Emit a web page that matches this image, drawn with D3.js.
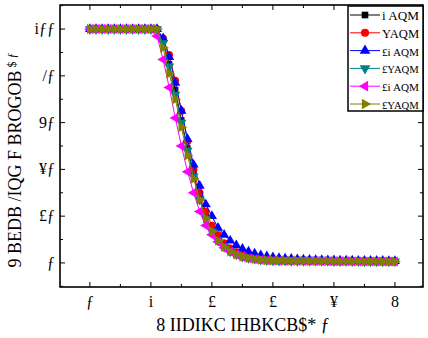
<!DOCTYPE html>
<html>
<head>
<meta charset="utf-8">
<script src="https://cdn.jsdelivr.net/npm/d3@7"></script>
<style>
  body { margin: 0; background: #fff; }
  text { font-family: "Liberation Serif", "DejaVu Serif", serif; fill: #000; }
</style>
</head>
<body>
<div id="chart"></div>
<script>
const width = 428;
const height = 338;
const margin = {top: 5, right: 5, bottom: 51, left: 60};

// x positions shared by all series
const xValues = [0, 0.1, 0.2, 0.3, 0.4, 0.5, 0.6, 0.7, 0.8, 0.9, 1.0, 1.1, 1.2, 1.3, 1.4, 1.5, 1.6, 1.7, 1.8, 1.9,
  2.0, 2.1, 2.2, 2.3, 2.4, 2.5, 2.6, 2.7, 2.8, 2.9, 3.0, 3.1, 3.2, 3.3, 3.4, 3.5, 3.6, 3.7, 3.8, 3.9,
  4.0, 4.1, 4.2, 4.3, 4.4, 4.5, 4.6, 4.7, 4.8, 4.9, 5.0];

const seriesNames = ['i AQM', 'YAQM', '£i AQM', '£YAQM', '£i AQM', '£YAQM'];

const blackValues = [100, 100, 100, 100, 100, 100, 100, 100, 100, 100, 100, 100,
  95, 85, 74, 61, 49, 38, 28, 20, 14, 10, 7, 5, 3.6, 2.7, 2.1, 1.7, 1.4, 1.2, 1.1,
  1.0, 1.0, 0.9, 0.9, 0.9, 0.8, 0.8, 0.8, 0.8, 0.7, 0.7, 0.7, 0.7, 0.7, 0.6, 0.6, 0.6, 0.6, 0.6, 0.6];
const redValues = [100, 100, 100, 100, 100, 100, 100, 100, 100, 100, 100, 100,
  96, 89, 78, 65, 52, 40, 30, 22, 16, 12, 8.5, 6.2, 4.6, 3.5, 2.7, 2.1, 1.7, 1.5, 1.3,
  1.2, 1.1, 1.1, 1.0, 1.0, 1.0, 0.9, 0.9, 0.9, 0.9, 0.8, 0.8, 0.8, 0.8, 0.8, 0.7, 0.7, 0.7, 0.7, 0.7];
const blueValues = [100, 100, 100, 100, 100, 100, 100, 100, 100, 100, 100, 100,
  96, 88, 77, 65, 53, 42, 33, 25, 20, 15, 12, 9.5, 7.5, 6, 4.8, 4, 3.3, 2.8, 2.4,
  2.1, 1.9, 1.7, 1.5, 1.4, 1.3, 1.2, 1.2, 1.1, 1.1, 1.0, 1.0, 1.0, 0.9, 0.9, 0.9, 0.9, 0.9, 0.8, 0.8];
const tealValues = [100, 100, 100, 100, 100, 100, 100, 100, 100, 100, 100, 100,
  94, 84, 72, 60, 48, 37, 27, 19, 13.5, 9.5, 6.8, 4.9, 3.6, 2.7, 2.1, 1.7, 1.4, 1.2, 1.1,
  1.0, 1.0, 0.9, 0.9, 0.9, 0.8, 0.8, 0.8, 0.8, 0.7, 0.7, 0.7, 0.7, 0.7, 0.6, 0.6, 0.6, 0.6, 0.6, 0.6];
const magentaValues = [100, 100, 100, 100, 100, 100, 100, 100, 100, 100, 100, 97,
  87, 75, 62, 50, 39, 30, 22, 16, 12, 9, 6.5, 4.8, 3.5, 2.6, 2.0, 1.6, 1.3, 1.1, 1.0,
  0.9, 0.9, 0.9, 0.8, 0.8, 0.8, 0.8, 0.7, 0.7, 0.7, 0.7, 0.7, 0.6, 0.6, 0.6, 0.6, 0.6, 0.6, 0.6, 0.6];
const oliveValues = [100, 100, 100, 100, 100, 100, 100, 100, 100, 100, 100, 100,
  92, 81, 70, 58, 46, 36, 27, 19, 13.5, 9.5, 6.8, 4.9, 3.6, 2.7, 2.1, 1.7, 1.4, 1.2, 1.1,
  1.0, 1.0, 0.9, 0.9, 0.9, 0.8, 0.8, 0.8, 0.8, 0.7, 0.7, 0.7, 0.7, 0.7, 0.6, 0.6, 0.6, 0.6, 0.6, 0.6];

const xTicks = [0, 1, 2, 3, 4, 5];
const xTickLabels = ['ƒ', 'i', '£', '£', '¥', '8'];
const yTicks = [0, 20, 40, 60, 80, 100];
const yTickLabels = ['ƒ', '£ƒ', '¥ƒ', '9ƒ', '/ƒ', 'iƒƒ'];

const xLabel = '8 IIDIKC IHBKCB$* ƒ';
const yLabel = '9 BEDB /IQG F BROGOB';
const yLabelSup = '$ ƒ';

const series = [
  {name: seriesNames[0], values: blackValues, color: '#000000', shape: d3.symbolSquare, rot: 0, size: 38},
  {name: seriesNames[1], values: redValues, color: '#ff0000', shape: d3.symbolCircle, rot: 0, size: 46},
  {name: seriesNames[2], values: blueValues, color: '#0000ff', shape: d3.symbolTriangle, rot: 0, size: 44},
  {name: seriesNames[3], values: tealValues, color: '#008080', shape: d3.symbolTriangle, rot: 180, size: 44},
  {name: seriesNames[4], values: magentaValues, color: '#ff00ff', shape: d3.symbolTriangle, rot: -90, size: 44},
  {name: seriesNames[5], values: oliveValues, color: '#808000', shape: d3.symbolTriangle, rot: 90, size: 44},
];

const x = d3.scaleLinear().domain([-0.49, 5.46]).range([margin.left, width - margin.right]);
const y = d3.scaleLinear().domain([-10.3, 110.3]).range([height - margin.bottom, margin.top]);

const svg = d3.select('#chart').append('svg').attr('width', width).attr('height', height);

// frame
svg.append('rect')
  .attr('x', margin.left).attr('y', margin.top)
  .attr('width', width - margin.left - margin.right)
  .attr('height', height - margin.top - margin.bottom)
  .attr('fill', 'none').attr('stroke', '#000').attr('stroke-width', 1.6);

// ticks, pointing inward on all four sides
const xMinor = d3.range(-0.5, 5.5, 0.5).filter((d) => d >= -0.49 && d <= 5.46);
const yMinor = d3.range(-10, 111, 10);
const bottom = height - margin.bottom;
const right = width - margin.right;

const tickG = svg.append('g').attr('stroke', '#000').attr('stroke-width', 1);
xMinor.forEach((d) => {
  const len = Number.isInteger(d) ? 5 : 3;
  tickG.append('line').attr('x1', x(d)).attr('x2', x(d)).attr('y1', bottom).attr('y2', bottom - len);
  tickG.append('line').attr('x1', x(d)).attr('x2', x(d)).attr('y1', margin.top).attr('y2', margin.top + len);
});
yMinor.forEach((d) => {
  const len = d % 20 === 0 ? 5 : 3;
  tickG.append('line').attr('y1', y(d)).attr('y2', y(d)).attr('x1', margin.left).attr('x2', margin.left + len);
  tickG.append('line').attr('y1', y(d)).attr('y2', y(d)).attr('x1', right).attr('x2', right - len);
});

svg.append('g').selectAll('text')
  .data(xTicks)
  .enter()
  .append('text')
  .attr('x', (d) => x(d))
  .attr('y', bottom + 20)
  .attr('text-anchor', 'middle')
  .style('font-size', '16px')
  .text((d, i) => xTickLabels[i]);

svg.append('g').selectAll('text')
  .data(yTicks)
  .enter()
  .append('text')
  .attr('x', margin.left - 5)
  .attr('y', (d) => y(d) + 5)
  .attr('text-anchor', 'end')
  .style('font-size', '16px')
  .text((d, i) => yTickLabels[i]);

svg.append('text')
  .attr('x', 243).attr('y', 331)
  .attr('text-anchor', 'middle')
  .style('font-size', '18px')
  .text(xLabel);

const yl = svg.append('text')
  .attr('transform', 'translate(21,160) rotate(-90)')
  .attr('text-anchor', 'middle')
  .style('font-size', '18px');
yl.append('tspan').text(yLabel);
yl.append('tspan').attr('dx', 3).attr('dy', -5).style('font-size', '12px').text(yLabelSup);

// series
const line = d3.line().x((d, i) => x(xValues[i])).y((d) => y(d));
const plot = svg.append('g');
series.forEach((s) => {
  plot.append('path')
    .datum(s.values)
    .attr('d', line)
    .attr('fill', 'none')
    .attr('stroke', s.color)
    .attr('stroke-width', 1);
  const sym = d3.symbol().type(s.shape).size(s.size);
  plot.append('g').selectAll('path')
    .data(s.values)
    .enter()
    .append('path')
    .attr('d', sym)
    .attr('transform', (d, i) => `translate(${x(xValues[i])},${y(d)}) rotate(${s.rot})`)
    .attr('fill', s.color);
});

// legend
const legend = svg.append('g');
legend.append('rect')
  .attr('x', 348).attr('y', 6).attr('width', 75).attr('height', 105)
  .attr('fill', '#fff').attr('stroke', '#000').attr('stroke-width', 1.5);
const legendRows = legend.selectAll('g')
  .data(series)
  .enter()
  .append('g')
  .attr('transform', (d, i) => `translate(0,${15 + i * 17.8})`);
legendRows.append('line')
  .attr('x1', 350).attr('x2', 380)
  .attr('stroke', (d) => d.color).attr('stroke-width', 1);
legendRows.append('path')
  .attr('d', (d) => d3.symbol().type(d.shape).size(d.size + 6)())
  .attr('transform', (d) => `translate(365,0) rotate(${d.rot})`)
  .attr('fill', (d) => d.color);
legendRows.append('text')
  .attr('x', 382).attr('y', 5)
  .style('font-size', '14px')
  .text((d) => d.name)
  .each(function() {
    // shrink the longer names so they stay inside the box
    const w = this.getComputedTextLength();
    if (w > 37) {
      d3.select(this).style('font-size', (14 * 37 / w).toFixed(1) + 'px');
    }
  });
</script>
</body>
</html>
